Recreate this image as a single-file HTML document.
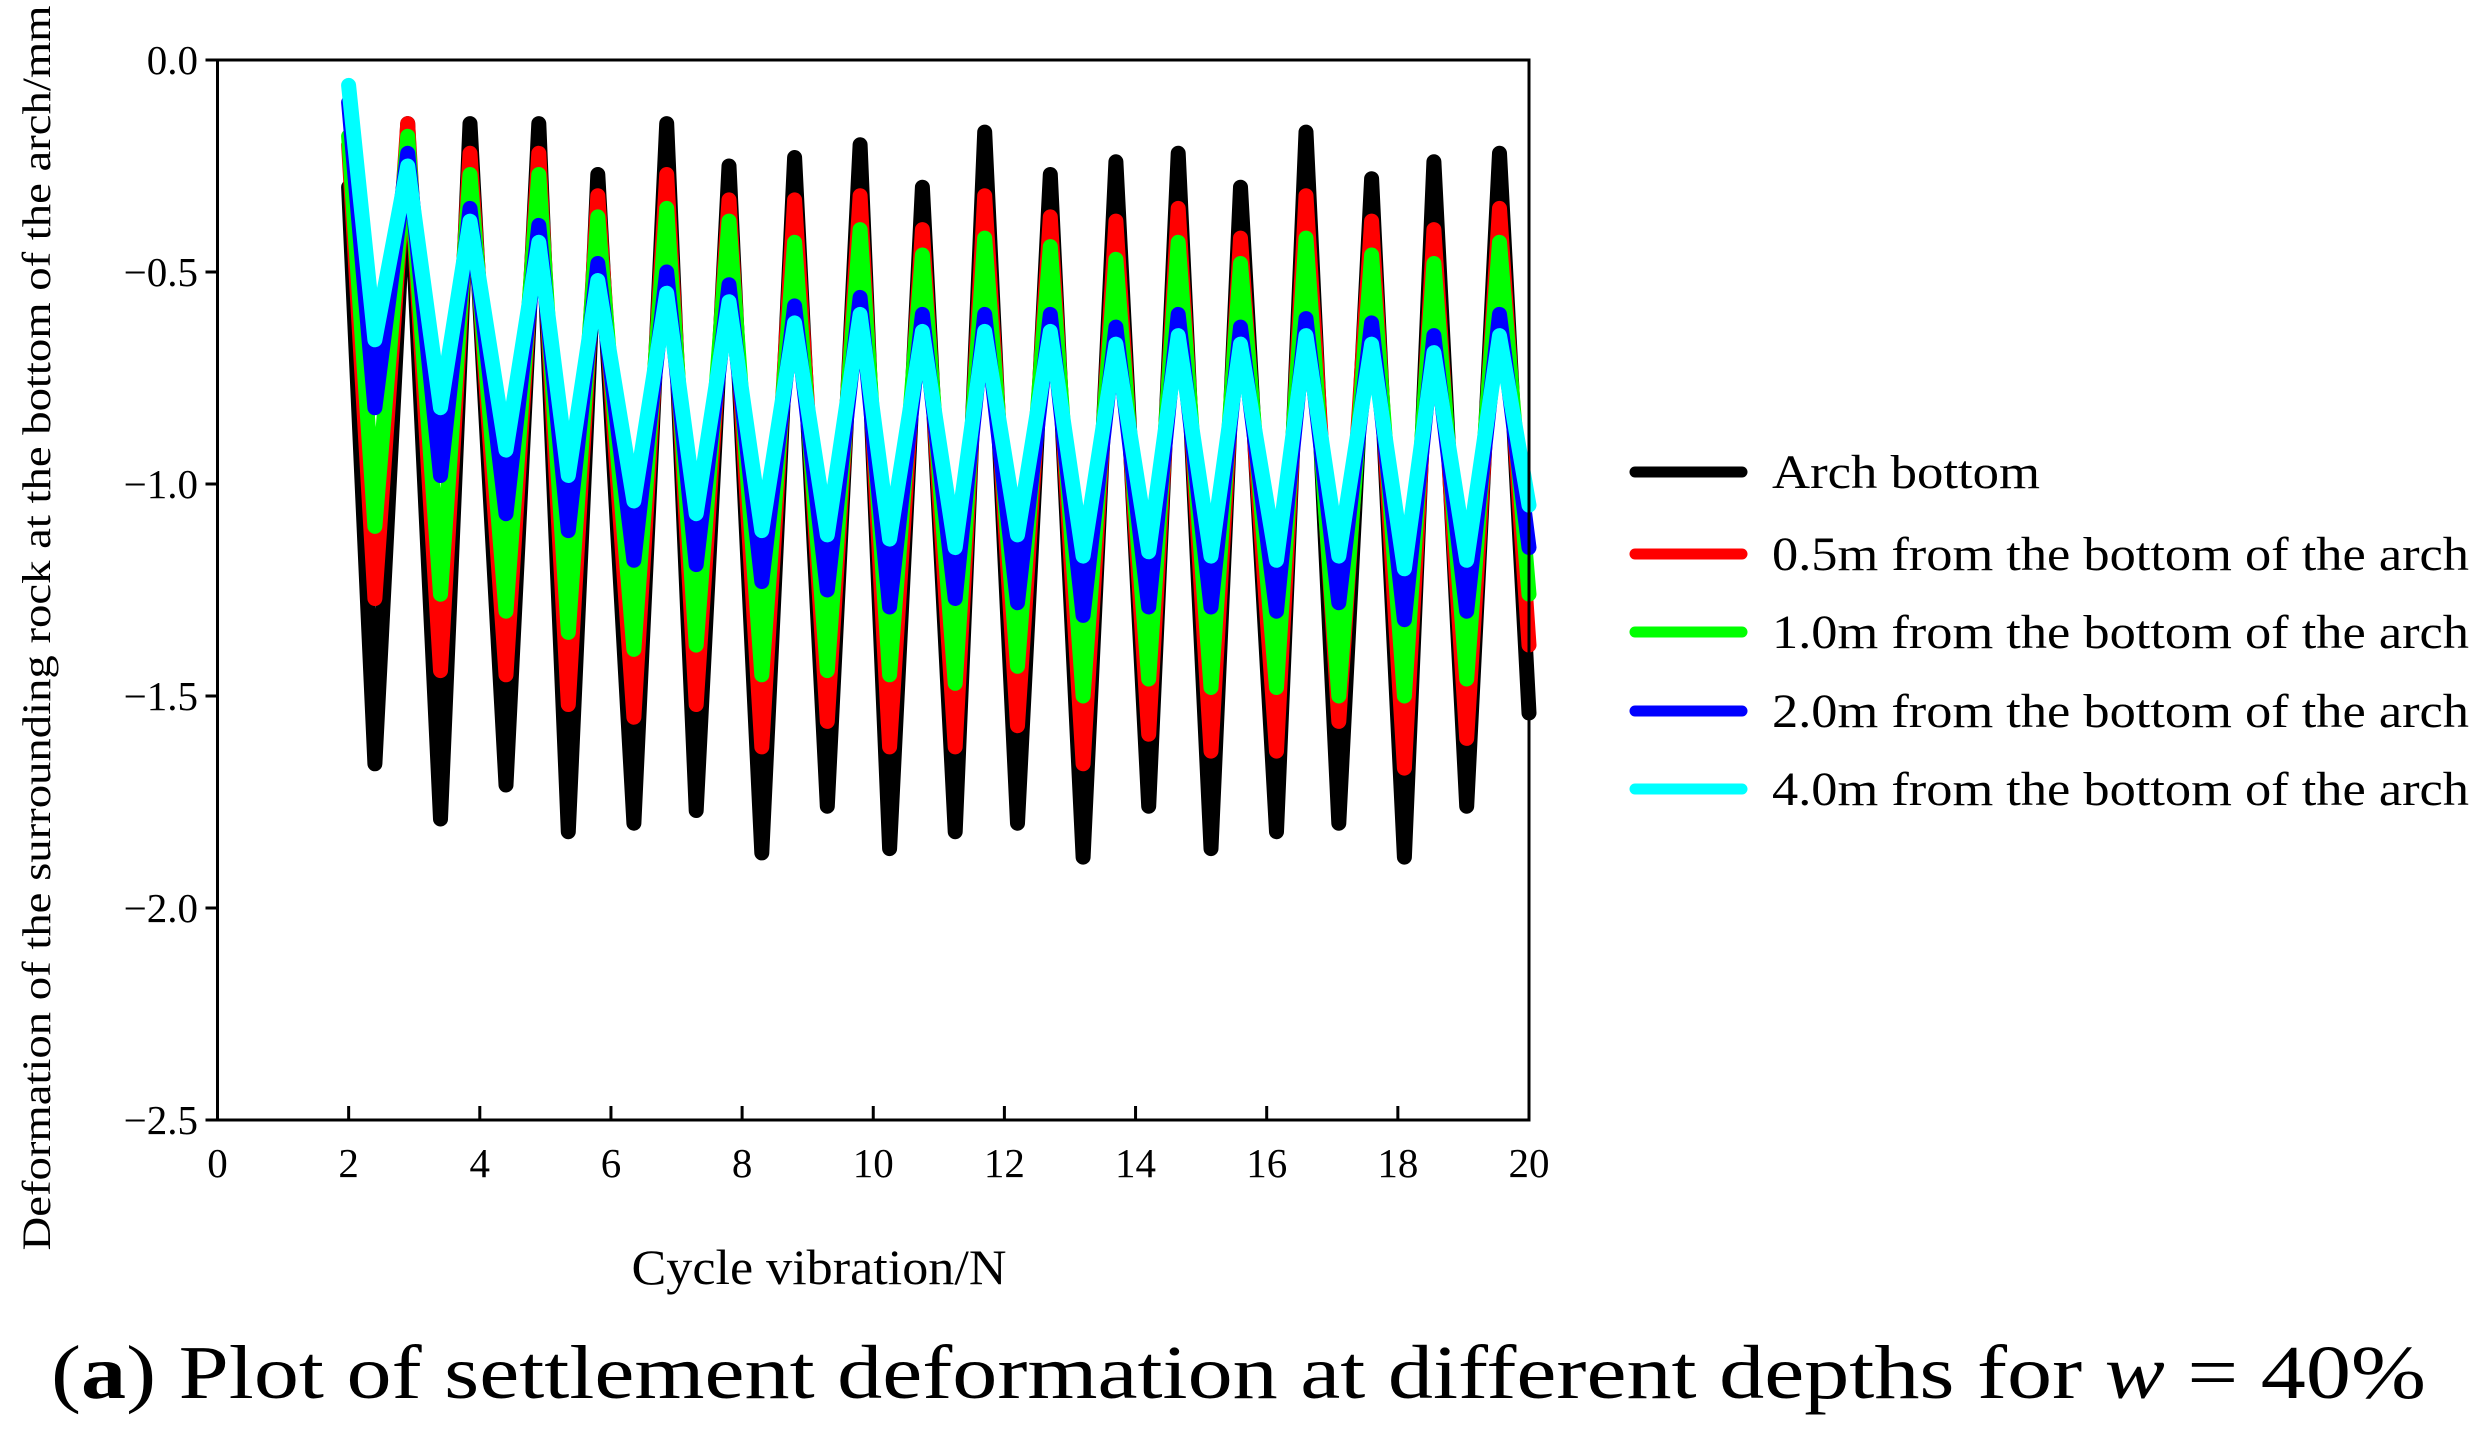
<!DOCTYPE html>
<html><head><meta charset="utf-8"><style>
html,body{margin:0;padding:0;background:#fff;}
svg{display:block;font-family:"Liberation Serif","Times New Roman",serif;}
text{font-family:"Liberation Serif","Times New Roman",serif;fill:#000;}
</style></head><body>
<svg id="chart" width="2490" height="1435" viewBox="0 0 2490 1435" xmlns="http://www.w3.org/2000/svg" font-family="Liberation Serif, serif">
<g id="series"></g>
<rect x="217.5" y="60" width="1311.5" height="1060" fill="none" stroke="#000" stroke-width="3"/>
<g id="axes"></g>
<text transform="translate(50,628) rotate(-90)" text-anchor="middle" font-size="40" textLength="1245" lengthAdjust="spacingAndGlyphs">Deformation of the surrounding rock at the bottom of the arch/mm</text>
<text x="819" y="1284" text-anchor="middle" font-size="50" textLength="375" lengthAdjust="spacingAndGlyphs">Cycle vibration/N</text>
<g id="legend"></g>
<text x="51" y="1398" font-size="76" textLength="2375" lengthAdjust="spacingAndGlyphs">(<tspan font-weight="bold">a</tspan>) Plot of settlement deformation at different depths for <tspan font-style="italic">w</tspan> = 40%</text>
</svg>
<script>
const xTicks = [0,2,4,6,8,10,12,14,16,18,20];
const yTicks = [0.0,-0.5,-1.0,-1.5,-2.0,-2.5];
const xs = [2,2.4,2.9,3.4,3.85,4.4,4.9,5.35,5.8,6.35,6.85,7.3,7.8,8.3,8.8,9.3,9.8,10.25,10.75,11.25,11.7,12.2,12.7,13.2,13.7,14.2,14.65,15.15,15.6,16.15,16.6,17.1,17.6,18.1,18.55,19.05,19.55,20];
const seriesNames = ["Arch bottom","0.5m from the bottom of the arch","1.0m from the bottom of the arch","2.0m from the bottom of the arch","4.0m from the bottom of the arch"];
const seriesColors = ["#000000","#ff0000","#00ff00","#0000ff","#00ffff"];
const archBottom = [-0.3,-1.66,-0.15,-1.79,-0.15,-1.71,-0.15,-1.82,-0.27,-1.8,-0.15,-1.77,-0.25,-1.87,-0.23,-1.76,-0.2,-1.86,-0.3,-1.82,-0.17,-1.8,-0.27,-1.88,-0.24,-1.76,-0.22,-1.86,-0.3,-1.82,-0.17,-1.8,-0.28,-1.88,-0.24,-1.76,-0.22,-1.54];
const depth05 = [-0.2,-1.27,-0.15,-1.44,-0.22,-1.45,-0.22,-1.52,-0.32,-1.55,-0.27,-1.52,-0.33,-1.62,-0.33,-1.56,-0.32,-1.62,-0.4,-1.62,-0.32,-1.57,-0.37,-1.66,-0.38,-1.59,-0.35,-1.63,-0.42,-1.63,-0.32,-1.56,-0.38,-1.67,-0.4,-1.6,-0.35,-1.38];
const depth10 = [-0.18,-1.1,-0.18,-1.26,-0.27,-1.3,-0.27,-1.35,-0.37,-1.39,-0.35,-1.38,-0.38,-1.45,-0.43,-1.44,-0.4,-1.45,-0.46,-1.47,-0.42,-1.43,-0.44,-1.5,-0.47,-1.46,-0.43,-1.48,-0.48,-1.48,-0.42,-1.5,-0.46,-1.5,-0.48,-1.46,-0.43,-1.26];
const depth20 = [-0.1,-0.82,-0.22,-0.98,-0.35,-1.07,-0.39,-1.11,-0.48,-1.18,-0.5,-1.19,-0.53,-1.23,-0.58,-1.25,-0.56,-1.29,-0.6,-1.27,-0.6,-1.28,-0.6,-1.31,-0.63,-1.29,-0.6,-1.29,-0.63,-1.3,-0.61,-1.28,-0.62,-1.32,-0.65,-1.3,-0.6,-1.15];
const depth40 = [-0.06,-0.66,-0.25,-0.82,-0.38,-0.92,-0.43,-0.98,-0.52,-1.04,-0.55,-1.07,-0.57,-1.11,-0.62,-1.12,-0.6,-1.13,-0.64,-1.15,-0.64,-1.12,-0.64,-1.17,-0.67,-1.16,-0.65,-1.17,-0.67,-1.18,-0.65,-1.17,-0.67,-1.2,-0.69,-1.18,-0.65,-1.05];
const allSeries = [archBottom, depth05, depth10, depth20, depth40];

const NS = "http://www.w3.org/2000/svg";
const L = 217.5, R = 1529, T = 60, B = 1120;
function xScale(v){ return L + (v - 0) / 20 * (R - L); }
function yScale(v){ return T + (0 - v) / 2.5 * (B - T); }
function mk(tag, attrs, parent){ const e = document.createElementNS(NS, tag); for (const k in attrs) e.setAttribute(k, attrs[k]); parent.appendChild(e); return e; }

const sg = document.getElementById('series');
allSeries.forEach((vals, i) => {
  const d = vals.map((v, j) => (j ? 'L' : 'M') + xScale(xs[j]).toFixed(1) + ',' + yScale(v).toFixed(1)).join(' ');
  const p = mk('path', {d: d, fill: 'none', stroke: seriesColors[i], 'stroke-width': 15, 'stroke-linejoin': 'round', 'stroke-linecap': 'round'}, sg);
  
  
});

const ax = document.getElementById('axes');
xTicks.forEach(t => {
  const x = xScale(t);
  const ln = mk('line', {x1: x, x2: x, y1: B, y2: B - 14, stroke: '#000', 'stroke-width': 3}, ax);
  
  
  const tx = mk('text', {x: x, y: 1177, 'text-anchor': 'middle', 'font-size': 41, 'font-family': 'Liberation Serif, serif'}, ax);
  tx.textContent = String(t);
  
  
});
yTicks.forEach(t => {
  const y = yScale(t);
  const ln = mk('line', {x1: L, x2: L - 12, y1: y, y2: y, stroke: '#000', 'stroke-width': 3}, ax);
  
  
  const tx = mk('text', {x: 198, y: y + 14, 'text-anchor': 'end', 'font-size': 41, 'font-family': 'Liberation Serif, serif'}, ax);
  tx.textContent = (t === 0 ? '0.0' : '\u2212' + Math.abs(t).toFixed(1));
  
  
});

const lg = document.getElementById('legend');
const rowsY = [472, 554, 632, 711, 789];
seriesNames.forEach((n, i) => {
  const ln = mk('line', {x1: 1635, x2: 1742, y1: rowsY[i], y2: rowsY[i], stroke: seriesColors[i], 'stroke-width': 11, 'stroke-linecap': 'round'}, lg);
  
  
  const tx = mk('text', {x: 1772, y: rowsY[i] + 16, 'font-size': 48, textLength: i === 0 ? 268 : 697, lengthAdjust: 'spacingAndGlyphs', 'font-family': 'Liberation Serif, serif'}, lg);
  tx.textContent = n;
  
  
});
</script>
</body></html>
